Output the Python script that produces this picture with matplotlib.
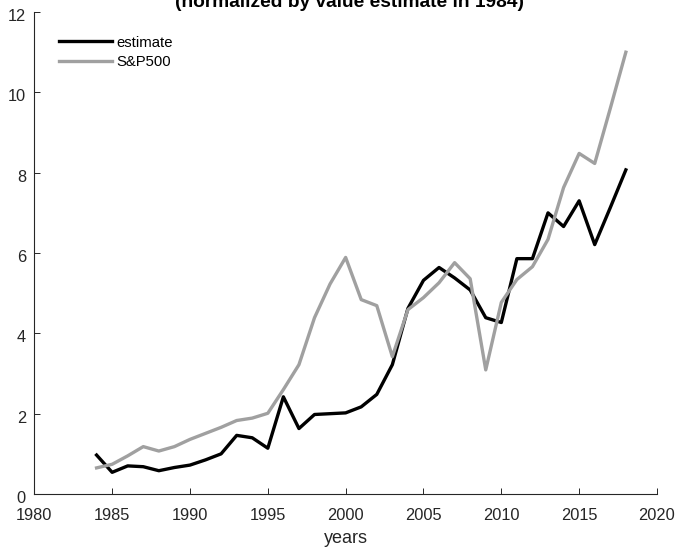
import matplotlib
matplotlib.use("Agg")
import matplotlib.pyplot as plt
from matplotlib.transforms import ScaledTranslation

plt.rcParams['font.family'] = ['Liberation Sans', 'DejaVu Sans']

years = list(range(1984, 2019))

# value estimate, normalized to 1984
estimate = [0.97, 0.54, 0.70, 0.68, 0.58, 0.66, 0.72, 0.85, 1.00, 1.46, 1.40,
            1.14, 2.42, 1.63, 1.98, 2.00, 2.02, 2.17, 2.48, 3.22, 4.62, 5.32,
            5.64, 5.38, 5.08, 4.39, 4.27, 5.86, 5.86, 7.00, 6.66, 7.30, 6.21,
            7.13, 8.07]

# S&P500, same normalization
sp500 = [0.65, 0.74, 0.95, 1.18, 1.07, 1.18, 1.36, 1.51, 1.66, 1.83, 1.89,
         2.01, 2.60, 3.22, 4.39, 5.23, 5.89, 4.84, 4.69, 3.42, 4.59, 4.89,
         5.26, 5.76, 5.36, 3.09, 4.77, 5.34, 5.66, 6.34, 7.63, 8.48, 8.23,
         9.60, 11.0]

xticks = [1980, 1985, 1990, 1995, 2000, 2005, 2010, 2015, 2020]
yticks = [0, 2, 4, 6, 8, 10, 12]

fig = plt.figure(figsize=(6.78, 5.5), dpi=100)
ax = fig.add_axes([0.0506, 0.1018, 0.9184, 0.8763])

ax.plot(years, estimate, color='black', lw=2.4, label='estimate')
ax.plot(years, sp500, color='#a0a0a0', lw=2.4, label='S&P500')

ax.set_xlim(1980, 2020)
ax.set_ylim(0, 12)
ax.set_xticks(xticks)
ax.set_yticks(yticks)
ax.tick_params(direction='in', length=4.5, width=0.7, labelsize=11.8, colors='#262626')
ax.tick_params(axis='x', pad=10)
ax.tick_params(axis='y', pad=6)
ax.spines['top'].set_visible(False)
ax.spines['right'].set_visible(False)
for s in ('left', 'bottom'):
    ax.spines[s].set_linewidth(0.8)
    ax.spines[s].set_color('#262626')

# y labels sit a little below their ticks
shift = ScaledTranslation(0, -3 / 100, fig.dpi_scale_trans)
for lbl in ax.get_yticklabels():
    lbl.set_transform(lbl.get_transform() + shift)

ax.set_xlabel('years', fontsize=13, color='#262626', labelpad=5)

ax.legend(loc='upper left', frameon=False, fontsize=10.7,
          handlelength=3.6, handletextpad=0.3, labelspacing=0.38,
          bbox_to_anchor=(0.0176, 0.979))

fig.text(0.515, 0.9864, '(normalized by value estimate in 1984)',
         ha='center', va='baseline', fontsize=13.8, fontweight='bold')

fig.savefig('out.png', dpi=100)
